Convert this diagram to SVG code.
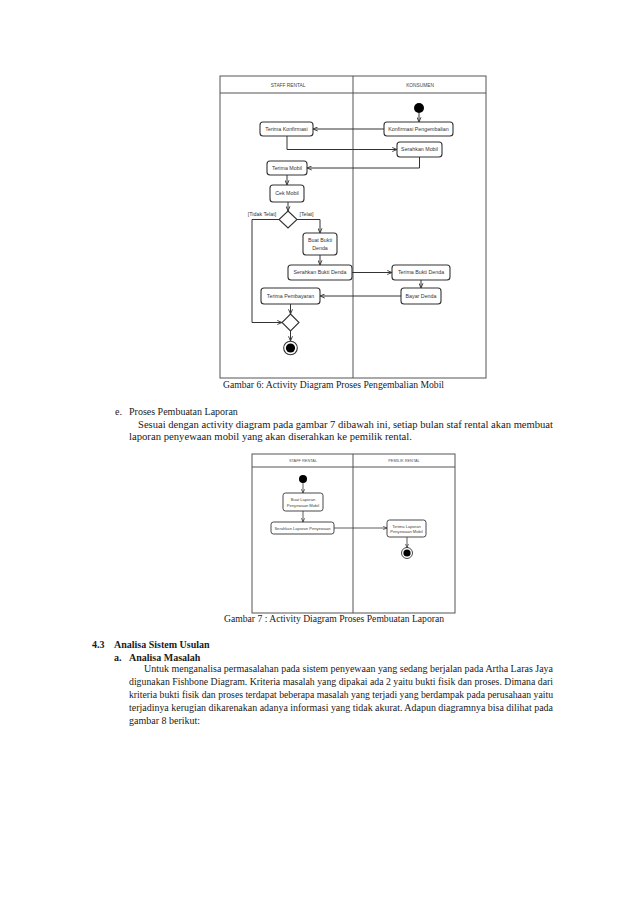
<svg xmlns="http://www.w3.org/2000/svg" width="638" height="902" viewBox="0 0 638 902">
<style>
.frame{fill:none;stroke:#555;stroke-width:1}
.node{fill:#fff;stroke:#333;stroke-width:1.1}
.n2{fill:#fff;stroke:#333;stroke-width:0.9}
.lbl{font-family:"Liberation Sans",Arial,sans-serif;font-size:5.3px;fill:#333;text-anchor:middle}
.lbl2{font-family:"Liberation Sans",Arial,sans-serif;font-size:4.1px;fill:#444;text-anchor:middle}
.hdr{font-family:"Liberation Sans",Arial,sans-serif;font-size:4.8px;fill:#444;text-anchor:middle}
.hdr2{font-family:"Liberation Sans",Arial,sans-serif;font-size:3.9px;fill:#555;text-anchor:middle}
.con{fill:none;stroke:#333;stroke-width:1}
.con2{fill:none;stroke:#333;stroke-width:0.8}
.body{font-family:"Liberation Serif","Times New Roman",serif;font-size:10px;fill:#1a1a1a}
.bold{font-weight:bold}
</style>
<defs>
<marker id="arr" viewBox="0 0 10 10" refX="9.5" refY="5" markerWidth="5" markerHeight="5" markerUnits="userSpaceOnUse" orient="auto"><path d="M0,1 L9.5,5 L0,9" fill="none" stroke="#333" stroke-width="1.8"/></marker>
<marker id="arr2" viewBox="0 0 10 10" refX="9.5" refY="5" markerWidth="4" markerHeight="4" markerUnits="userSpaceOnUse" orient="auto"><path d="M0,1 L9.5,5 L0,9" fill="none" stroke="#333" stroke-width="1.8"/></marker>
</defs>
<rect width="638" height="902" fill="#fff"/>

<!-- Diagram 1 -->
<g id="frame1">
<rect class="frame" x="220" y="76" width="266" height="302"/>
<line class="frame" x1="220" y1="93" x2="486" y2="93"/>
<line class="frame" x1="353" y1="76" x2="353" y2="378"/>
<text class="hdr" x="288" y="86.5">STAFF RENTAL</text>
<text class="hdr" x="420" y="86.5">KONSUMEN</text>
</g>
<g id="start1"><circle cx="419" cy="108" r="5" fill="#000"/></g>
<g id="konfirmasi"><rect class="node" x="384" y="122" width="69" height="14" rx="3"/><text class="lbl" x="418.5" y="130.9">Konfirmasi Pengembalian</text></g>
<g id="terimaKonfirmasi"><rect class="node" x="260" y="122" width="53" height="14" rx="3"/><text class="lbl" x="286.5" y="130.9">Terima Konfirmasi</text></g>
<g id="serahkanMobil"><rect class="node" x="397" y="142" width="45" height="15" rx="3"/><text class="lbl" x="419.5" y="151.4">Serahkan Mobil</text></g>
<g id="terimaMobil"><rect class="node" x="267" y="161" width="40" height="14" rx="3"/><text class="lbl" x="287" y="169.9">Terima Mobil</text></g>
<g id="cekMobil"><rect class="node" x="270" y="185" width="34" height="17" rx="3"/><text class="lbl" x="287" y="195.4">Cek Mobil</text></g>
<g id="decision"><path class="node" d="M288,211 L297,219.5 L288,228 L279,219.5 Z"/></g>
<g id="buatBukti"><rect class="node" x="303" y="233" width="34" height="22" rx="3"/><text class="lbl" x="320" y="242">Buat Bukti</text><text class="lbl" x="320" y="249.5">Denda</text></g>
<g id="serahkanBukti"><rect class="node" x="288" y="265" width="64" height="15" rx="3"/><text class="lbl" x="320" y="274.4">Serahkan Bukti Denda</text></g>
<g id="terimaBukti"><rect class="node" x="392" y="265" width="58" height="15" rx="3"/><text class="lbl" x="421" y="274.4">Terima Bukti Denda</text></g>
<g id="bayarDenda"><rect class="node" x="401" y="288" width="40" height="16" rx="3"/><text class="lbl" x="421" y="297.9">Bayar Denda</text></g>
<g id="terimaPembayaran"><rect class="node" x="261" y="288" width="59" height="16" rx="3"/><text class="lbl" x="290.5" y="297.9">Terima Pembayaran</text></g>
<g id="merge"><path class="node" d="M290.5,314 L299,322.5 L290.5,331 L282,322.5 Z"/></g>
<g id="final1"><circle cx="290.5" cy="348" r="6.8" fill="#fff" stroke="#333" stroke-width="1.1"/><circle cx="290.5" cy="348" r="4.6" fill="#000"/></g>
<g id="connectors1">
<path class="con" d="M419,113 V122" marker-end="url(#arr)"/>
<path class="con" d="M384,129 H313" marker-end="url(#arr)"/>
<path class="con" d="M287,136 V149.5 H397" marker-end="url(#arr)"/>
<path class="con" d="M419.5,157 V168 H307" marker-end="url(#arr)"/>
<path class="con" d="M287,175 V185" marker-end="url(#arr)"/>
<path class="con" d="M288,202 V211" marker-end="url(#arr)"/>
<path class="con" d="M279,219.5 H252 V322.5 H282" marker-end="url(#arr)"/>
<path class="con" d="M297,219.5 H320 V233" marker-end="url(#arr)"/>
<path class="con" d="M320,255 V265" marker-end="url(#arr)"/>
<path class="con" d="M352,272.5 H392" marker-end="url(#arr)"/>
<path class="con" d="M421,280 V288" marker-end="url(#arr)"/>
<path class="con" d="M401,296 H320" marker-end="url(#arr)"/>
<path class="con" d="M290.5,304 V314" marker-end="url(#arr)"/>
<path class="con" d="M290.5,331 V341" marker-end="url(#arr)"/>
<text class="lbl" x="262" y="215.5">[Tidak Telat]</text>
<text class="lbl" x="306.5" y="215.5">[Telat]</text>
</g>

<text class="body" x="223" y="388" textLength="221" lengthAdjust="spacingAndGlyphs">Gambar 6: Activity Diagram Proses Pengembalian Mobil</text>

<text class="body" x="115" y="415">e.</text>
<text class="body" x="129" y="415">Proses Pembuatan Laporan</text>
<text class="body" x="138" y="428" textLength="415" lengthAdjust="spacingAndGlyphs">Sesuai dengan activity diagram pada gambar 7 dibawah ini, setiap bulan staf rental akan membuat</text>
<text class="body" x="129" y="440" textLength="283" lengthAdjust="spacingAndGlyphs">laporan penyewaan mobil yang akan diserahkan ke pemilik rental.</text>

<!-- Diagram 2 -->
<g id="frame2">
<rect class="frame" x="252" y="454" width="203" height="159"/>
<line class="frame" x1="252" y1="467" x2="455" y2="467"/>
<line class="frame" x1="353" y1="454" x2="353" y2="613"/>
<text class="hdr2" x="303" y="462">STAFF RENTAL</text>
<text class="hdr2" x="404" y="462">PEMILIK RENTAL</text>
</g>
<g id="start2"><circle cx="303" cy="479" r="4" fill="#000"/></g>
<g id="buatLaporan"><rect class="n2" x="283" y="493" width="40" height="18" rx="2.5"/><text class="lbl2" x="303" y="501">Buat Laporan</text><text class="lbl2" x="303" y="506.8">Penyewaan Mobil</text></g>
<g id="serahkanLaporan"><rect class="n2" x="271" y="522" width="63" height="12" rx="2.5"/><text class="lbl2" x="302.5" y="529.5">Serahkan Laporan Penyewaan</text></g>
<g id="terimaLaporan"><rect class="n2" x="387" y="520" width="39" height="17" rx="2.5"/><text class="lbl2" x="406.5" y="527.5">Terima Laporan</text><text class="lbl2" x="406.5" y="532.8">Penyewaan Mobil</text></g>
<g id="final2"><circle cx="407" cy="553" r="5.5" fill="#fff" stroke="#333" stroke-width="0.9"/><circle cx="407" cy="553" r="3.6" fill="#000"/></g>
<g id="connectors2">
<path class="con2" d="M303,483 V493" marker-end="url(#arr2)"/>
<path class="con2" d="M303,511 V522" marker-end="url(#arr2)"/>
<path class="con2" d="M334,528 H387" marker-end="url(#arr2)"/>
<path class="con2" d="M407,537 V547.5" marker-end="url(#arr2)"/>
</g>

<text class="body" x="224" y="622" textLength="220" lengthAdjust="spacingAndGlyphs">Gambar 7 : Activity Diagram Proses Pembuatan Laporan</text>

<text class="body bold" x="92" y="648">4.3</text>
<text class="body bold" x="114" y="648">Analisa Sistem Usulan</text>
<text class="body bold" x="114" y="661">a.</text>
<text class="body bold" x="129" y="661">Analisa Masalah</text>
<text class="body" x="144" y="672" textLength="409" lengthAdjust="spacingAndGlyphs">Untuk menganalisa permasalahan pada sistem penyewaan yang sedang berjalan pada Artha Laras Jaya</text>
<text class="body" x="129" y="685" textLength="424" lengthAdjust="spacingAndGlyphs">digunakan Fishbone Diagram. Kriteria masalah yang dipakai ada 2 yaitu bukti fisik dan proses. Dimana dari</text>
<text class="body" x="129" y="698" textLength="424" lengthAdjust="spacingAndGlyphs">kriteria bukti fisik dan proses terdapat beberapa masalah yang terjadi yang berdampak pada perusahaan yaitu</text>
<text class="body" x="129" y="711" textLength="424" lengthAdjust="spacingAndGlyphs">terjadinya kerugian dikarenakan adanya informasi yang tidak akurat. Adapun diagramnya bisa dilihat pada</text>
<text class="body" x="129" y="724">gambar 8 berikut:</text>
</svg>
